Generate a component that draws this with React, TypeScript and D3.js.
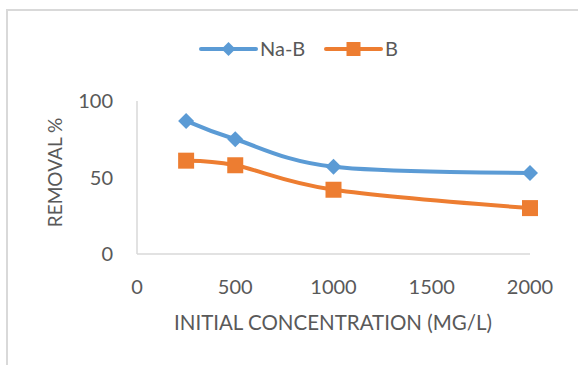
import React, { useEffect, useRef } from 'react';
import * as d3 from 'd3';

const concentrations = [250, 500, 1000, 2000];
const naB = [87, 75, 57, 53];
const bOnly = [61, 58, 42, 30];
const xTicks = [0, 500, 1000, 1500, 2000];
const yTicks = [0, 50, 100];
const seriesNames = ['Na-B', 'B'];

function App() {
  const ref = useRef<SVGSVGElement | null>(null);

  useEffect(() => {
    const svg = d3.select(ref.current);
    svg.selectAll('*').remove();

    const width = 578, height = 365;
    const font = 'Lato, "Open Sans", sans-serif';
    const textColor = '#595959';
    const colors = ['#5B9BD5', '#ED7D31'];

    // chart frame, cut off on the right and bottom like the picture
    svg.append('rect')
      .attr('x', 7)
      .attr('y', 10)
      .attr('width', width + 20)
      .attr('height', height + 20)
      .attr('fill', 'white')
      .attr('stroke', '#d9d9d9')
      .attr('stroke-width', 2);

    const x = d3.scaleLinear().domain([0, 2000]).range([137, 530]);
    const y = d3.scaleLinear().domain([0, 100]).range([254, 101]);

    // axes lines
    svg.append('line')
      .attr('x1', x(0)).attr('x2', x(0))
      .attr('y1', y(100)).attr('y2', y(0))
      .attr('stroke', '#d9d9d9').attr('stroke-width', 1.5);
    svg.append('line')
      .attr('x1', x(0)).attr('x2', x(2000))
      .attr('y1', y(0)).attr('y2', y(0))
      .attr('stroke', '#d9d9d9').attr('stroke-width', 1.5);

    svg.selectAll('.ytick')
      .data(yTicks).enter()
      .append('text')
      .attr('x', 113)
      .attr('y', d => y(d))
      .attr('dy', '0.35em')
      .attr('text-anchor', 'end')
      .attr('fill', textColor)
      .style('font-family', font)
      .style('font-size', '20px')
      .text(d => d);

    svg.selectAll('.xtick')
      .data(xTicks).enter()
      .append('text')
      .attr('x', d => x(d))
      .attr('y', 287)
      .attr('dy', '0.35em')
      .attr('text-anchor', 'middle')
      .attr('fill', textColor)
      .style('font-family', font)
      .style('font-size', '20px')
      .text(d => d);

    svg.append('text')
      .attr('x', 333)
      .attr('y', 323)
      .attr('dy', '0.35em')
      .attr('text-anchor', 'middle')
      .attr('fill', textColor)
      .style('font-family', font)
      .style('font-size', '20.5px')
      .text('INITIAL CONCENTRATION (MG/L)');

    svg.append('text')
      .attr('transform', 'translate(55.5,172.5) rotate(-90)')
      .attr('dy', '0.35em')
      .attr('text-anchor', 'middle')
      .attr('fill', textColor)
      .style('font-family', font)
      .style('font-size', '19px')
      .text('REMOVAL %');

    const line = d3.line<number>()
      .x((d, i) => x(concentrations[i]))
      .y(d => y(d))
      .curve(d3.curveCatmullRom.alpha(0));

    const diamond = (s: number) => `M0,${-s}L${s},0L0,${s}L${-s},0Z`;
    const square = (s: number) => `M${-s},${-s}H${s}V${s}H${-s}Z`;

    [naB, bOnly].forEach((vals, k) => {
      svg.append('path')
        .attr('d', line(vals))
        .attr('fill', 'none')
        .attr('stroke', colors[k])
        .attr('stroke-width', 4)
        .attr('stroke-linecap', 'round');
      svg.selectAll('.m' + k)
        .data(vals).enter()
        .append('path')
        .attr('transform', (d, i) => `translate(${x(concentrations[i])},${y(d)})`)
        .attr('d', k === 0 ? diamond(8) : square(8))
        .attr('fill', colors[k]);
    });

    // legend
    const legendX = [201, 326];
    seriesNames.forEach((name, k) => {
      const g = svg.append('g').attr('transform', `translate(${legendX[k]},49)`);
      g.append('line')
        .attr('x1', 0).attr('x2', 55)
        .attr('stroke', colors[k])
        .attr('stroke-width', 4)
        .attr('stroke-linecap', 'round');
      g.append('path')
        .attr('transform', 'translate(27.5,0)')
        .attr('d', k === 0 ? diamond(7) : square(7))
        .attr('fill', colors[k]);
      g.append('text')
        .attr('x', 59)
        .attr('dy', '0.35em')
        .attr('fill', textColor)
        .style('font-family', font)
        .style('font-size', '20px')
        .text(name);
    });
  }, []);

  return (
    <svg ref={ref} width={578} height={365} style={{ position: 'absolute', left: 0, top: 0 }}></svg>
  );
}

export default App;
